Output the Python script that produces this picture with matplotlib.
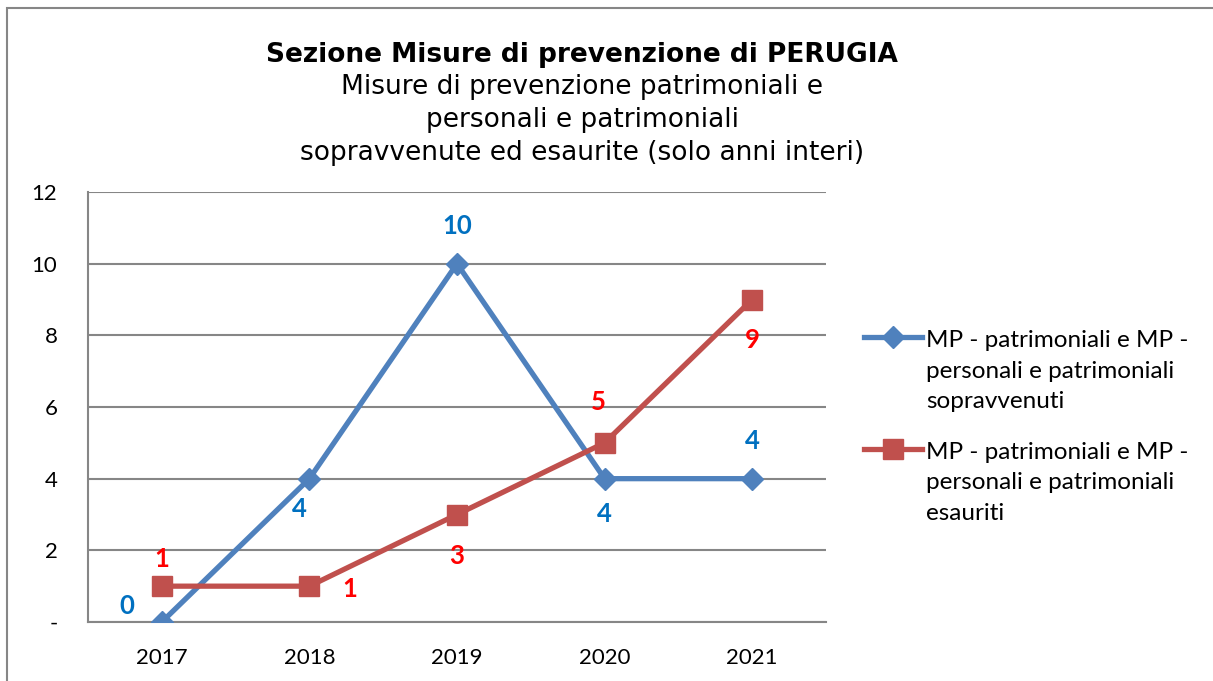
import matplotlib
matplotlib.use("Agg")
import matplotlib.pyplot as plt
from matplotlib.legend_handler import HandlerLine2D
from matplotlib.patches import Rectangle

years = ["2017", "2018", "2019", "2020", "2021"]
sopravvenuti = [0, 4, 10, 4, 4]
esauriti = [1, 1, 3, 5, 9]
label_sopr = "MP - patrimoniali e MP -\npersonali e patrimoniali\nsopravvenuti"
label_esau = "MP - patrimoniali e MP -\npersonali e patrimoniali\nesauriti"
title_main = "Sezione Misure di prevenzione di PERUGIA"
title_sub = ["Misure di prevenzione patrimoniali e",
             "personali e patrimoniali",
             "sopravvenute ed esaurite (solo anni interi)"]
yticks = [0, 2, 4, 6, 8, 10, 12]

# label offsets in pixels
off_sopr = [(-35, 16), (-10, -30), (0, 38), (0, -35), (0, 38)]
off_esau = [(0, 27), (40, -3), (0, -41), (-6, 41), (0, -40)]

BLUE = "#4F81BD"
RED = "#C0504D"
LBLUE = "#0070C0"
LRED = "#FF0000"
GRID = "#868686"
FONT = "Lato"

fig = plt.figure(figsize=(12.13, 6.81), dpi=100)
ax = fig.add_axes([88/1213, 59/681, 738/1213, 430/681])

x = list(range(len(years)))
l1, = ax.plot(x, sopravvenuti, color=BLUE, lw=3.8, marker="D", ms=11.5,
              label=label_sopr, zorder=3)
l2, = ax.plot(x, esauriti, color=RED, lw=3.8, marker="s", ms=14,
              label=label_esau, zorder=3)

for xi, v, o in zip(x, sopravvenuti, off_sopr):
    ax.annotate(str(v), (xi, v), xytext=o, textcoords="offset pixels",
                ha="center", va="center", color=LBLUE, fontsize=18.5,
                fontweight="bold", family=FONT, zorder=4)
for xi, v, o in zip(x, esauriti, off_esau):
    ax.annotate(str(v), (xi, v), xytext=o, textcoords="offset pixels",
                ha="center", va="center", color=LRED, fontsize=18.5,
                fontweight="bold", family=FONT, zorder=4)

ax.set_xlim(-0.5, len(years) - 0.5)
ax.set_ylim(0, 12)
ax.set_xticks(x)
ax.set_xticklabels(years, family=FONT, fontsize=16)
ax.set_yticks(yticks)
ax.set_yticklabels(["-" if t == 0 else str(t) for t in yticks], family=FONT, fontsize=16)
ax.tick_params(axis="both", length=0)
ax.tick_params(axis="y", pad=22)
ax.tick_params(axis="x", pad=19)
ax.grid(axis="y", color=GRID, lw=1.5)
ax.set_axisbelow(True)
for s in ["top", "right"]:
    ax.spines[s].set_visible(False)
for s in ["left", "bottom"]:
    ax.spines[s].set_color(GRID)
    ax.spines[s].set_linewidth(1.5)


class UpHandler(HandlerLine2D):
    def __init__(self, shift, **kw):
        super().__init__(**kw)
        self.shift = shift

    def create_artists(self, legend, orig_handle, xdescent, ydescent, width,
                       height, fontsize, trans):
        return super().create_artists(legend, orig_handle, xdescent,
                                      ydescent - self.shift, width, height,
                                      fontsize, trans)


lfs = 17.5
leg = fig.legend(handles=[l1, l2], loc="upper left",
                 bbox_to_anchor=(864/1213, 1 - 330/681),
                 frameon=False, prop={"family": FONT, "size": lfs},
                 handlelength=2.4, handletextpad=0.15, labelspacing=1.2,
                 borderaxespad=0, borderpad=0,
                 handler_map={l1: UpHandler(2.8 * lfs), l2: UpHandler(2.8 * lfs)})
for t in leg.get_texts():
    t.set_linespacing(1.57)

fig.text(582/1213, 1 - 55/681, title_main, ha="center", va="center",
         fontsize=19, fontweight="bold", family="DejaVu Sans")
for i, t in enumerate(title_sub):
    fig.text(582/1213, 1 - (86.5 + 33.5 * i)/681, t, ha="center", va="center",
             fontsize=19, family="DejaVu Sans")

fig.patches.append(Rectangle((7/1213, -0.1), 1.2, 1.1 - 8/681,
                             transform=fig.transFigure, fill=False,
                             edgecolor=GRID, lw=1.5))

fig.savefig("out.png", dpi=100)
